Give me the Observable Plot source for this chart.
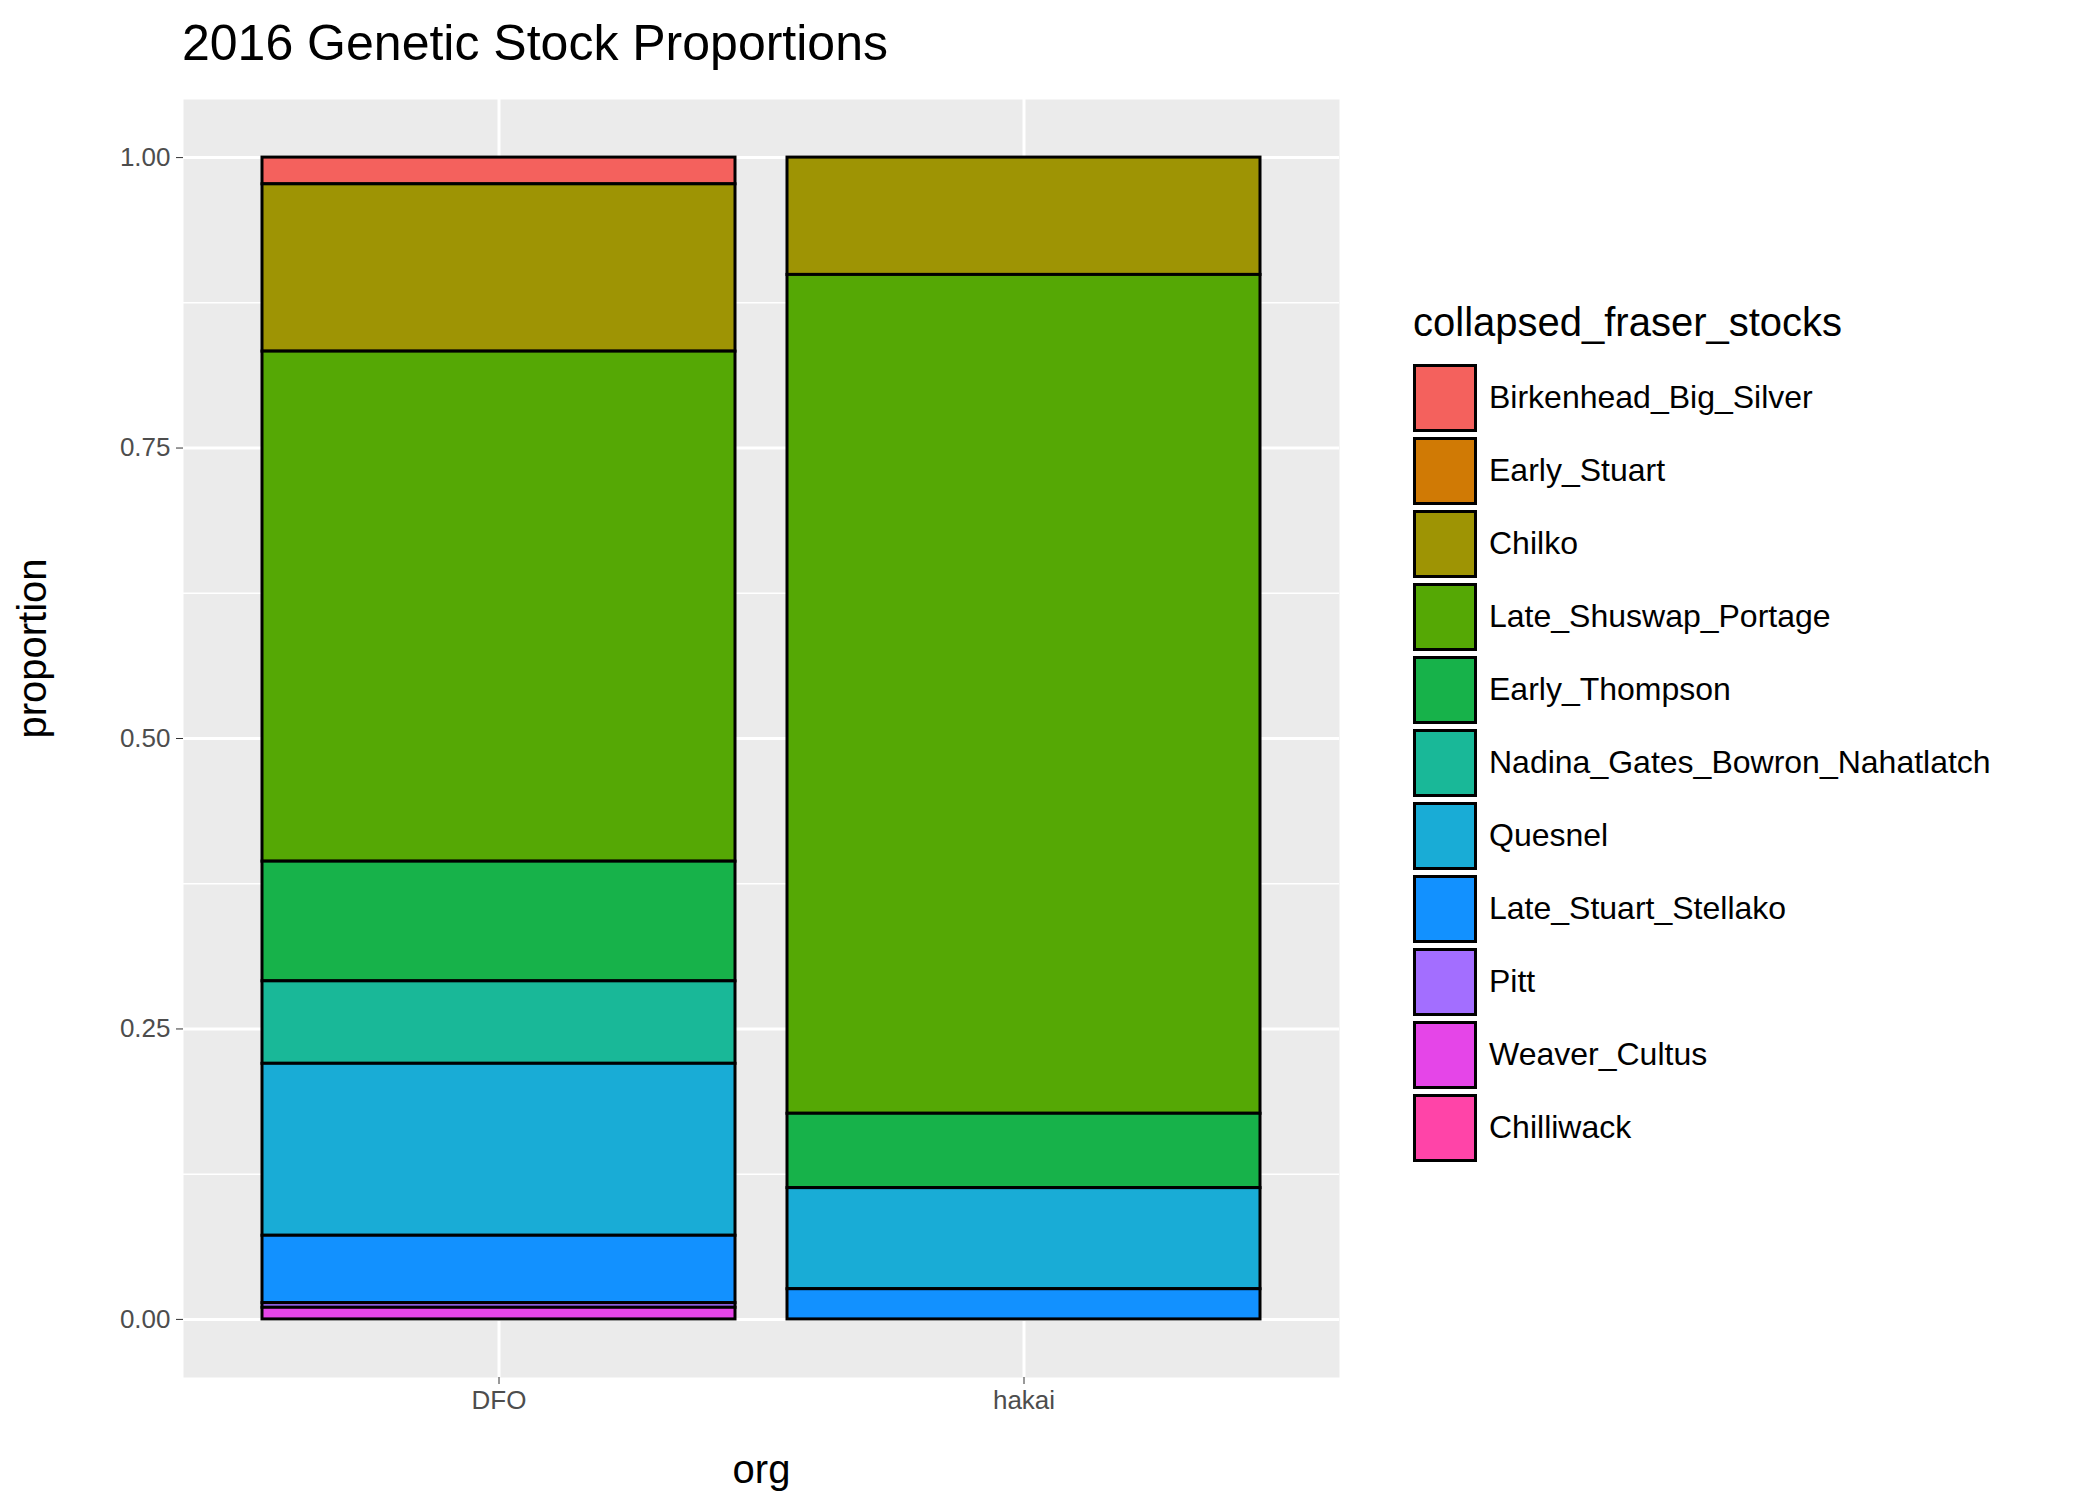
<!DOCTYPE html>
<html>
<head>
<meta charset="UTF-8" />
<style>
  body { margin: 0; background: #fff; font-family: "Liberation Sans", Arial, sans-serif; }
  #wrap { position: relative; width: 2099px; height: 1499px; }
  #title { position: absolute; left: 182px; top: 14px; font-size: 50px; color: #000; }
  #chart { position: absolute; left: 0; top: 60px; }
  #legend { position: absolute; left: 1413px; top: 300px; }
  #legend .lt { font-size: 40px; margin-bottom: 16px; }
  #legend .row { display: flex; align-items: center; height: 73px; }
  #legend .key { width: 64px; height: 68px; box-sizing: border-box; border: 3px solid #000; margin-right: 12px; }
  #legend .lab { font-size: 32px; }
</style>
</head>
<body>
<div id="wrap">
  <div id="title">2016 Genetic Stock Proportions</div>
  <div id="chart"></div>
  <div id="legend"></div>
</div>
<script src="https://cdn.jsdelivr.net/npm/d3@7"></script>
<script src="https://cdn.jsdelivr.net/npm/@observablehq/plot@0.6"></script>
<script>
const stocks = ["Birkenhead_Big_Silver", "Early_Stuart", "Chilko", "Late_Shuswap_Portage",
  "Early_Thompson", "Nadina_Gates_Bowron_Nahatlatch", "Quesnel", "Late_Stuart_Stellako",
  "Pitt", "Weaver_Cultus", "Chilliwack"];
const colors = ["#F4615D", "#D07A05", "#9E9404", "#55A805", "#17B24A", "#19B898",
  "#19ACD6", "#1291FF", "#A36EFF", "#E545E8", "#FF44A8"];
const orgs = ["DFO", "hakai"];
const dfo = [0.023, 0, 0.144, 0.439, 0.103, 0.071, 0.148, 0.058, 0.004, 0.010, 0];
const hakai = [0, 0, 0.101, 0.722, 0.064, 0, 0.087, 0.026, 0, 0, 0];

const rows = [];
[dfo, hakai].forEach((vals, i) => {
  stocks.forEach((s, j) => {
    if (vals[j] > 0) rows.push({org: orgs[i], stock: s, proportion: vals[j]});
  });
});

const chart = Plot.plot({
  width: 1390,
  height: 1439,
  marginLeft: 183,
  marginRight: 51,
  marginTop: 39,
  marginBottom: 122,
  style: {fontFamily: "Liberation Sans, Arial, sans-serif", fontSize: "26px", color: "#4d4d4d"},
  x: {domain: orgs, paddingInner: 0.1, paddingOuter: 0.15, label: null},
  y: {domain: [-0.05, 1.05], label: null},
  color: {domain: stocks, range: colors},
  marks: [
    Plot.frame({fill: "#ebebeb", stroke: null}),
    Plot.gridY([0.125, 0.375, 0.625, 0.875], {stroke: "#fff", strokeOpacity: 1, strokeWidth: 1.5}),
    Plot.gridY([0, 0.25, 0.5, 0.75, 1], {stroke: "#fff", strokeOpacity: 1, strokeWidth: 3}),
    Plot.gridX(orgs, {stroke: "#fff", strokeOpacity: 1, strokeWidth: 3}),
    Plot.barY(rows, Plot.stackY({
      x: "org", y: "proportion", fill: "stock",
      order: stocks.slice().reverse(),
      stroke: "#000", strokeWidth: 3
    })),
    Plot.axisY([0, 0.25, 0.5, 0.75, 1], {tickFormat: d3.format(".2f"), tickSize: 7, tickPadding: 6, stroke: "#333", fill: "#4d4d4d", label: null}),
    Plot.axisX(orgs, {tickSize: 7, tickPadding: 6, stroke: "#333", fill: "#4d4d4d", label: null}),
    Plot.text(["proportion"], {frameAnchor: "left", dx: -150, rotate: -90, fontSize: 40, fill: "#000"}),
    Plot.text(["org"], {frameAnchor: "bottom", dy: 105, fontSize: 40, fill: "#000"})
  ]
});
document.querySelector("#chart").append(chart);

const legend = document.querySelector("#legend");
legend.innerHTML = `<div class="lt">collapsed_fraser_stocks</div>` +
  stocks.map((s, i) => `<div class="row"><div class="key" style="background:${colors[i]}"></div><div class="lab">${s}</div></div>`).join("");
</script>
</body>
</html>
